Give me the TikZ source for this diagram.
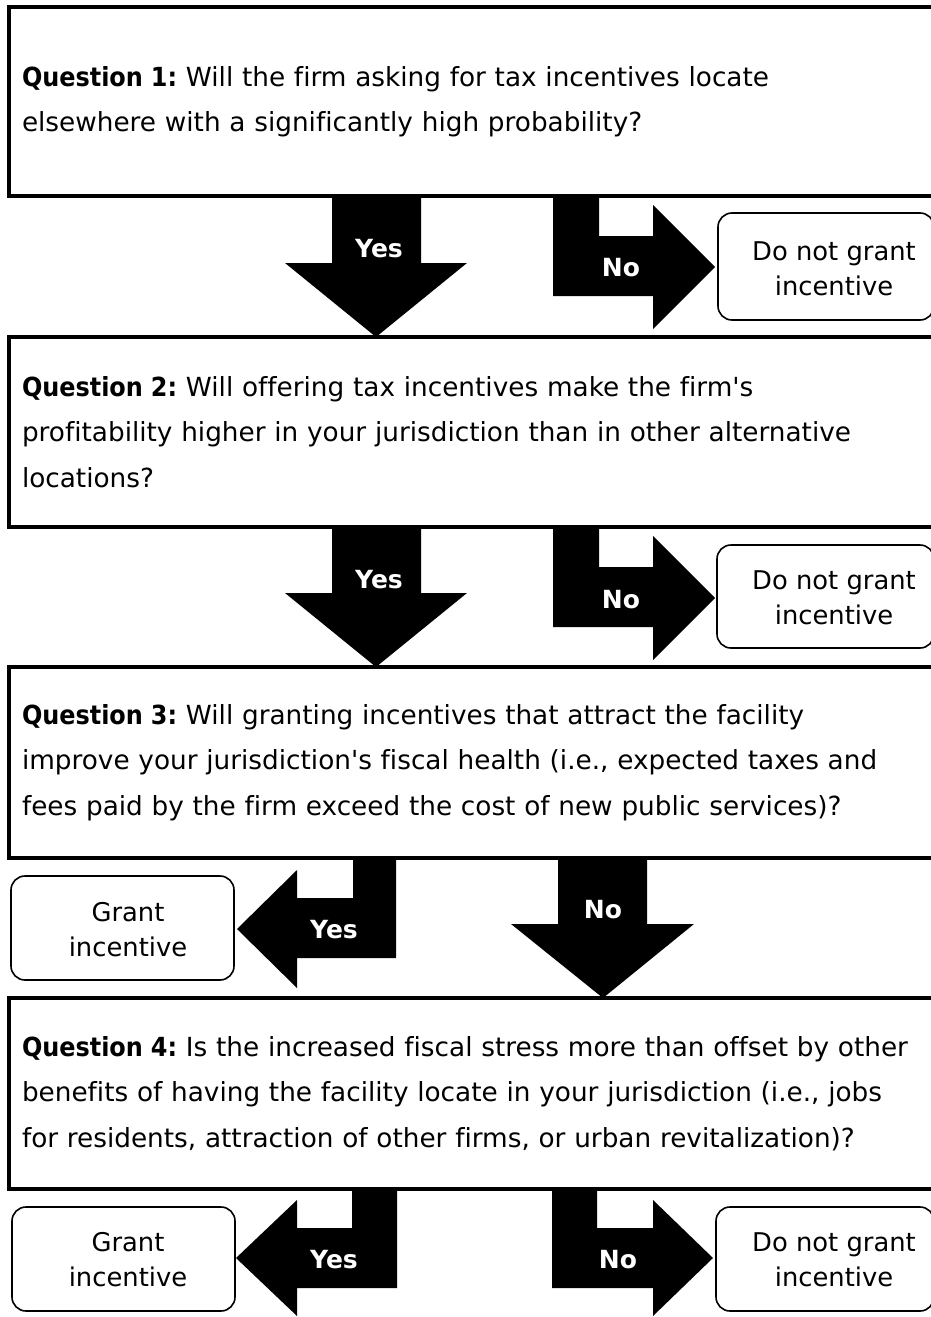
\documentclass[tikz,border=0pt]{standalone}
\usepackage{graphicx}
\usepackage{fontspec}
\setmainfont{DejaVu Sans}
\newfontfamily\qf{DejaVu Sans}[Ligatures=CommonOff]
\newcommand{\qlabel}[1]{\scalebox{0.91}[1]{\bfseries #1}}
\begin{document}
\frenchspacing
\begin{tikzpicture}[x=1pt,y=-1pt,
  qbox/.style={draw,line width=3.5pt,outer sep=0pt,anchor=north west,
    text width=915pt,align=left,inner xsep=13pt,inner ysep=0pt,
    font=\qf\fontsize{26.3}{45.5}\selectfont},
  rbox/.style={draw,line width=1.6pt,rounded corners=14pt,outer sep=0pt,inner sep=0pt},
  rtext/.style={align=center,font=\qf\fontsize{25.8}{35}\selectfont},
  blk/.style={fill=black},
  lbl/.style={text=white,font=\qf\bfseries\fontsize{25}{28}\selectfont}]
\useasboundingbox (0,0) rectangle (931,1317);
\clip (0,0) rectangle (931,1317);
% question boxes
\node[qbox,minimum height=189pt] (q1) at (9,7)
  {\qlabel{Question 1:} Will the firm asking for tax incentives locate\\
   elsewhere with a significantly high probability?};
\node[qbox,minimum height=190pt] (q2) at (9,337)
  {\qlabel{Question 2:} Will offering tax incentives make the firm's\\
   profitability higher in your jurisdiction than in other alternative\\
   locations?};
\node[qbox,minimum height=191pt] (q3) at (9,667)
  {\qlabel{Question 3:} Will granting incentives that attract the facility\\
   improve your jurisdiction's fiscal health (i.e., expected taxes and\\
   fees paid by the firm exceed the cost of new public services)?};
\node[qbox,minimum height=191pt] (q4) at (9,998)
  {\qlabel{Question 4:} Is the increased fiscal stress more than offset by other\\
   benefits of having the facility locate in your jurisdiction (i.e., jobs\\
   for residents, attraction of other firms, or urban revitalization)?};
% outcome boxes
\node[rbox,minimum width=216pt,minimum height=107pt] (d1) at (826,266.5) {};
\node[rtext] (d1t) at (834,269) {Do not grant\\incentive};
\node[rbox,minimum width=217pt,minimum height=103pt] (d2) at (825.5,596.5) {};
\node[rtext] (d2t) at (834,597.5) {Do not grant\\incentive};
\node[rbox,minimum width=223pt,minimum height=104pt] (g3) at (122.5,928) {};
\node[rtext] (g3t) at (128,929.5) {Grant\\incentive};
\node[rbox,minimum width=223pt,minimum height=104pt] (g4) at (123.5,1259) {};
\node[rtext] (g4t) at (128,1260) {Grant\\incentive};
\node[rbox,minimum width=218pt,minimum height=104pt] (d4) at (825,1259) {};
\node[rtext] (d4t) at (834,1260) {Do not grant\\incentive};
% row 1 arrows
\fill[blk] (332,196) -- (421,196) -- (421,263) -- (467,263) -- (376,337) -- (285,263) -- (332,263) -- cycle;
\node[lbl] (y1) at (379,249) {Yes};
\fill[blk] (553,196) -- (599,196) -- (599,236) -- (653,236) -- (653,205) -- (715,267) -- (653,329) -- (653,296) -- (553,296) -- cycle;
\node[lbl] (n1) at (621,268) {No};
% row 2 arrows
\fill[blk] (332,527) -- (421,527) -- (421,593) -- (467,593) -- (376,667) -- (285,593) -- (332,593) -- cycle;
\node[lbl] (y2) at (379,580) {Yes};
\fill[blk] (553,527) -- (599,527) -- (599,567) -- (653,567) -- (653,536) -- (715,598) -- (653,660) -- (653,627) -- (553,627) -- cycle;
\node[lbl] (n2) at (621,600) {No};
% row 3 arrows
\fill[blk] (396,858) -- (353,858) -- (353,898) -- (297,898) -- (297,870) -- (237,929) -- (297,988) -- (297,958) -- (396,958) -- cycle;
\node[lbl] (y3) at (334,930) {Yes};
\fill[blk] (558,858) -- (647,858) -- (647,924) -- (694,924) -- (603,998) -- (511,924) -- (558,924) -- cycle;
\node[lbl] (n3) at (603,910) {No};
% row 4 arrows
\fill[blk] (397,1189) -- (352,1189) -- (352,1228) -- (297,1228) -- (297,1200) -- (236,1258) -- (297,1316) -- (297,1288) -- (397,1288) -- cycle;
\node[lbl] (y4) at (334,1260) {Yes};
\fill[blk] (552,1189) -- (597,1189) -- (597,1228) -- (653,1228) -- (653,1200) -- (713,1258) -- (653,1316) -- (653,1288) -- (552,1288) -- cycle;
\node[lbl] (n4) at (618,1260) {No};
\end{tikzpicture}
\end{document}
